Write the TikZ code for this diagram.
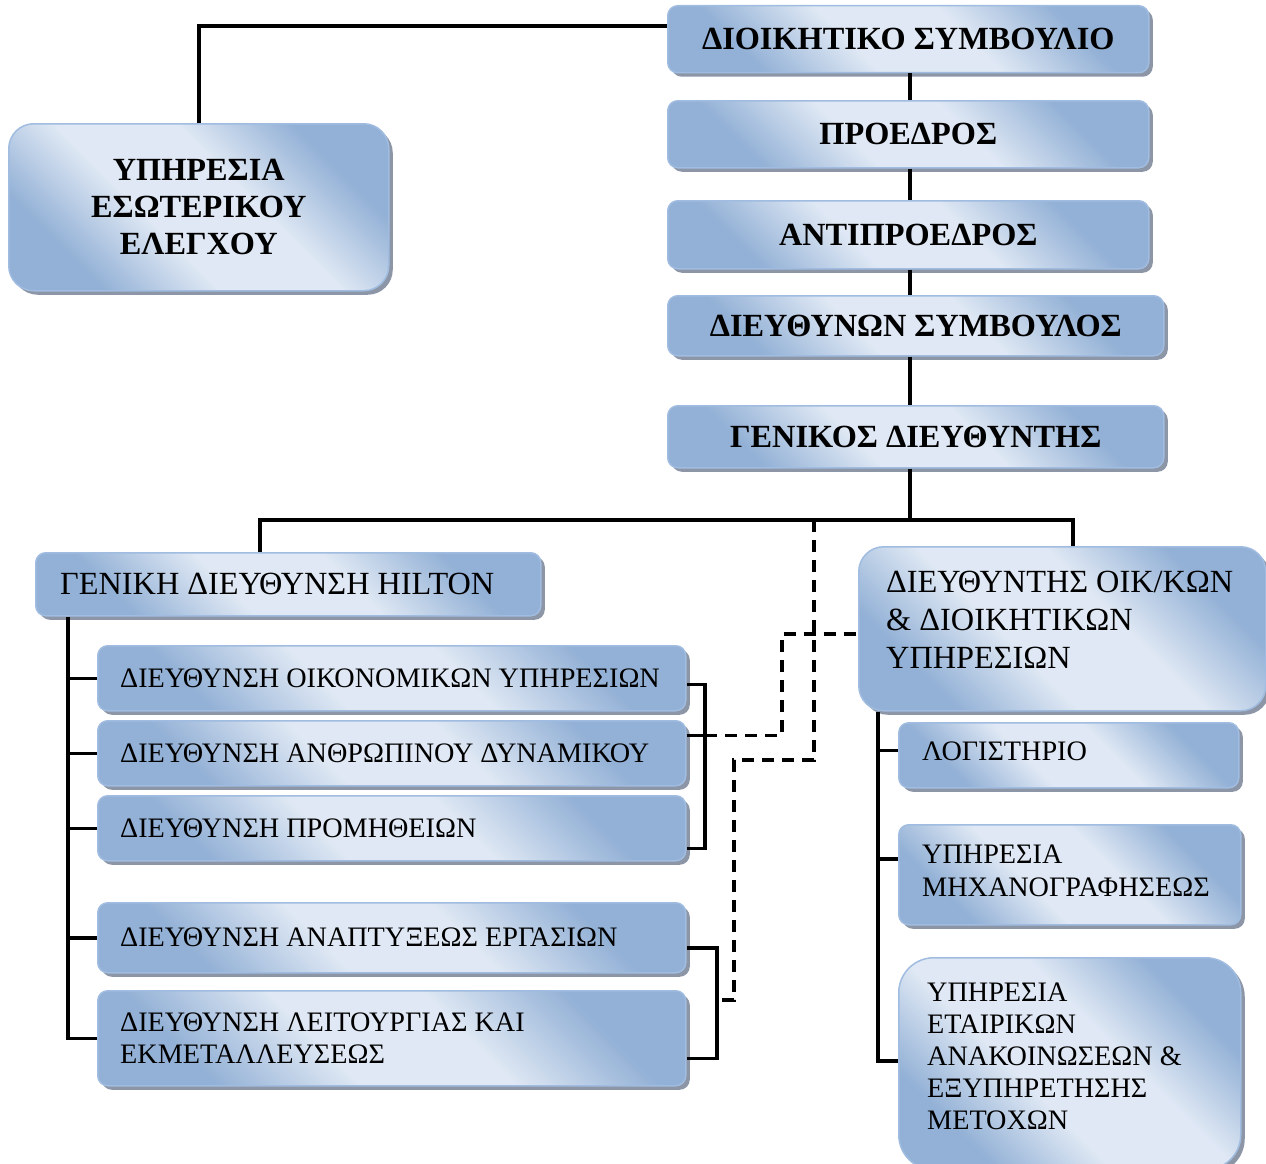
\documentclass[tikz,border=0pt]{standalone}
\usepackage{fontspec}
\setmainfont{Liberation Serif}
\usetikzlibrary{shadows}
\definecolor{bdark}{RGB}{147,177,214}
\definecolor{blight}{RGB}{223,232,244}
\definecolor{bborder}{RGB}{160,188,224}
\definecolor{shadowc}{RGB}{140,150,166}
\pgfdeclarehorizontalshading{bluemirror}{100bp}{color(0bp)=(bdark); color(27bp)=(bdark); color(42bp)=(blight); color(58bp)=(blight); color(73bp)=(bdark); color(100bp)=(bdark)}
\begin{document}
\begin{tikzpicture}[x=1pt,y=-1pt,
  box/.style={draw=bborder, line width=1.5pt, rounded corners=10pt, shade, shading=bluemirror, shading angle=45,
    drop shadow={shadow xshift=4pt, shadow yshift=-4pt, fill=shadowc, opacity=1},
    anchor=north west, inner sep=0pt, align=center},
  txt/.style={anchor=west, align=left, inner sep=0pt},
  bfont/.style={font=\fontsize{32.3}{37}\selectfont\bfseries},
  lfont/.style={font=\fontsize{32.3}{38}\selectfont},
  sfont/.style={font=\fontsize{28.2}{32.5}\selectfont},
  conn/.style={line width=3.5pt},
  dsh/.style={line width=3.5pt, dash pattern=on 12pt off 8pt}
]
\useasboundingbox (0,0) rectangle (1266,1164);
\clip (0,0) rectangle (1266,1164);

% top chain
\node[box, minimum width=481pt, minimum height=67pt, bfont] (board) at (667,5) {ΔΙΟΙΚΗΤΙΚΟ ΣΥΜΒΟΥΛΙΟ};
\node[box, minimum width=481pt, minimum height=67pt, bfont] (pres) at (667,100) {ΠΡΟΕΔΡΟΣ};
\node[box, minimum width=481pt, minimum height=68pt, bfont] (vice) at (667,200) {ΑΝΤΙΠΡΟΕΔΡΟΣ};
\node[box, minimum width=496pt, minimum height=60pt, bfont] (ceo) at (667,295) {ΔΙΕΥΘΥΝΩΝ ΣΥΜΒΟΥΛΟΣ};
\node[box, minimum width=496pt, minimum height=62pt, bfont] (gm) at (667,405) {ΓΕΝΙΚΟΣ ΔΙΕΥΘΥΝΤΗΣ};

\node[box, rounded corners=25pt, minimum width=380pt, minimum height=167pt, bfont] (audit) at (8,123) {ΥΠΗΡΕΣΙΑ\\ΕΣΩΤΕΡΙΚΟΥ\\ΕΛΕΓΧΟΥ};

% second level
\node[box, minimum width=505pt, minimum height=63pt] (hilton) at (35,552) {};
\node[txt, lfont] (hiltonT) at ([xshift=25pt]hilton.west) {ΓΕΝΙΚΗ ΔΙΕΥΘΥΝΣΗ HILTON};

\node[box, rounded corners=25pt, minimum width=407pt, minimum height=164pt] (cfo) at (858,546) {};
\node[txt, lfont] (cfoT) at ([xshift=28pt,yshift=9pt]cfo.west) {ΔΙΕΥΘΥΝΤΗΣ ΟΙΚ/ΚΩΝ\\\& ΔΙΟΙΚΗΤΙΚΩΝ\\ΥΠΗΡΕΣΙΩΝ};

% left sub boxes
\node[box, minimum width=588pt, minimum height=65pt] (fin) at (97,645) {};
\node[txt, sfont] (finT) at ([xshift=23pt]fin.west) {ΔΙΕΥΘΥΝΣΗ ΟΙΚΟΝΟΜΙΚΩΝ ΥΠΗΡΕΣΙΩΝ};
\node[box, minimum width=588pt, minimum height=65pt] (hr) at (97,720) {};
\node[txt, sfont] (hrT) at ([xshift=23pt]hr.west) {ΔΙΕΥΘΥΝΣΗ ΑΝΘΡΩΠΙΝΟΥ ΔΥΝΑΜΙΚΟΥ};
\node[box, minimum width=588pt, minimum height=65pt] (proc) at (97,795) {};
\node[txt, sfont] (procT) at ([xshift=23pt]proc.west) {ΔΙΕΥΘΥΝΣΗ ΠΡΟΜΗΘΕΙΩΝ};
\node[box, minimum width=588pt, minimum height=70pt] (dev) at (97,902) {};
\node[txt, sfont] (devT) at ([xshift=23pt]dev.west) {ΔΙΕΥΘΥΝΣΗ ΑΝΑΠΤΥΞΕΩΣ ΕΡΓΑΣΙΩΝ};
\node[box, minimum width=588pt, minimum height=95pt] (ops) at (97,990) {};
\node[txt, sfont] (opsT) at ([xshift=23pt]ops.west) {ΔΙΕΥΘΥΝΣΗ ΛΕΙΤΟΥΡΓΙΑΣ ΚΑΙ\\ΕΚΜΕΤΑΛΛΕΥΣΕΩΣ};

% right sub boxes
\node[box, minimum width=340pt, minimum height=65pt] (acc) at (898,722) {};
\node[txt, sfont] (accT) at ([xshift=24pt,yshift=4pt]acc.west) {ΛΟΓΙΣΤΗΡΙΟ};
\node[box, minimum width=342pt, minimum height=100pt] (it) at (898,824) {};
\node[txt, sfont] (itT) at ([xshift=24pt,yshift=4pt]it.west) {ΥΠΗΡΕΣΙΑ\\ΜΗΧΑΝΟΓΡΑΦΗΣΕΩΣ};
\node[box, rounded corners=35pt, minimum width=342pt, minimum height=212pt] (ir) at (898,957) {};
\node[txt, font=\fontsize{28.2}{32}\selectfont] (irT) at ([xshift=29pt,yshift=7pt]ir.west) {ΥΠΗΡΕΣΙΑ\\ΕΤΑΙΡΙΚΩΝ\\ΑΝΑΚΟΙΝΩΣΕΩΝ \&\\ΕΞΥΠΗΡΕΤΗΣΗΣ\\ΜΕΤΟΧΩΝ};

% helper coordinates
\coordinate (spine) at (910,0);
\coordinate (barL) at (260,520);
\coordinate (barM) at (910,520);
\coordinate (barR) at (1073,520);
\coordinate (trunkL) at (68,0);
\coordinate (trunkR) at (878,0);
\coordinate (brA) at (705,0);
\coordinate (brB) at (717,0);
\coordinate (dk1) at (782,0);
\coordinate (dk2) at (814,520);
\coordinate (dk3) at (734,760);

% top chain connectors
\draw[conn] (board.south -| spine) -- (pres.north -| spine);
\draw[conn] (pres.south -| spine) -- (vice.north -| spine);
\draw[conn] (vice.south -| spine) -- (ceo.north -| spine);
\draw[conn] (ceo.south -| spine) -- (gm.north -| spine);
\draw[conn] (gm.south -| spine) -- (barM);
\draw[conn] ([yshift=13pt]board.west) -| (audit.north);
\draw[conn] (hilton.north -| barL) -- (barL) -- (barR) -- (cfo.north -| barR);

% left trunk
\draw[conn] (hilton.south -| trunkL) |- (ops.west);
\draw[conn] (trunkL |- fin.west) -- (fin.west);
\draw[conn] (trunkL |- hr.west) -- (hr.west);
\draw[conn] (trunkL |- proc.west) -- (proc.west);
\draw[conn] (trunkL |- dev.west) -- (dev.west);

% right brackets
\coordinate (fA) at ([yshift=-6pt]fin.east);
\coordinate (hA) at ([yshift=18pt]hr.east);
\coordinate (pA) at ([yshift=-20pt]proc.east);
\draw[conn] (fA) -| (brA |- pA) -- (pA);
\draw[conn] (hA) -- (brA |- hA);
\coordinate (dA) at ([yshift=-10pt]dev.east);
\coordinate (oA) at ([yshift=-20pt]ops.east);
\coordinate (brMid) at (717,1000);
\draw[conn] (dA) -| (brB |- oA) -- (oA);

% dashed links
\coordinate (cfoIn) at ([yshift=-5pt]cfo.west);
\draw[dsh] (brA |- hA) -| (dk1 |- cfoIn) -- (cfoIn);
\draw[dsh] (dk2) |- (dk3) -- (dk3 |- brMid) -- (brMid);

% right trunk
\draw[conn] (cfo.south -| trunkR) |- ([yshift=3pt]ir.west);
\draw[conn] (trunkR |- acc.west) ++(0,-5) -- ([yshift=5pt]acc.west);
\draw[conn] (trunkR |- it.west) ++(0,-16) -- ([yshift=16pt]it.west);
\end{tikzpicture}
\end{document}
